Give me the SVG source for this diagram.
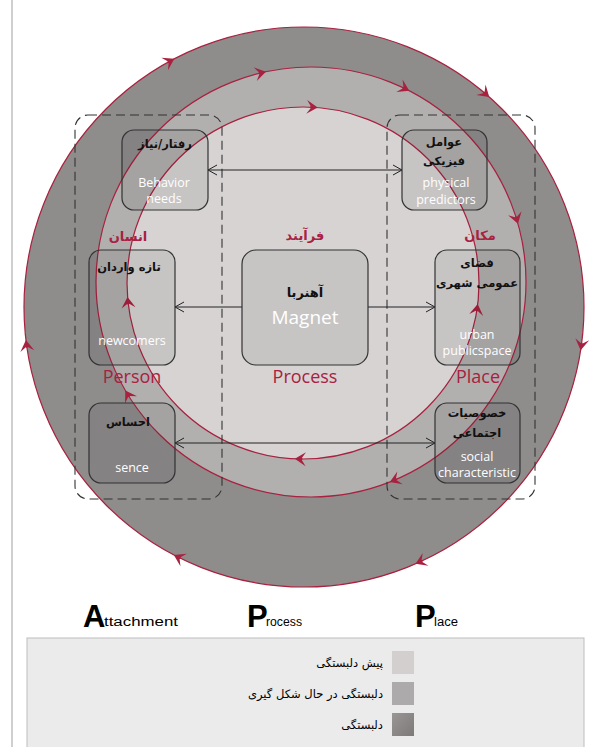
<svg xmlns="http://www.w3.org/2000/svg" width="609" height="747" viewBox="0 0 609 747">
<style>
.ring{stroke:#a8213f;stroke-width:1.2}
.box{fill:#000;fill-opacity:0.07;stroke:#333;stroke-width:1.2}
.dash{fill:none;stroke:#333;stroke-width:1.1;stroke-dasharray:9 5}
.fa{font-family:"DejaVu Sans",sans-serif;font-size:11.5px;font-weight:bold;fill:#111;text-anchor:middle}
.en{font-family:"Open Sans","Liberation Sans",sans-serif;font-size:12.5px;fill:#fff;text-anchor:middle}
.red{fill:#a8213f;font-family:"Open Sans","Liberation Sans",sans-serif;font-size:18px;text-anchor:middle}
.redfa{fill:#a8213f;font-family:"DejaVu Sans",sans-serif;font-weight:bold;font-size:13px;text-anchor:middle}
.ah{fill:#a8213f}
.conn{stroke:#222;stroke-width:1;fill:none}
.big{font-family:"Liberation Sans",sans-serif;font-weight:bold;font-size:31px;fill:#000}
.sm{font-family:"Liberation Sans",sans-serif;font-size:12px;fill:#000}
.leg{font-family:"DejaVu Sans",sans-serif;font-size:11.5px;fill:#000;text-anchor:end}
</style>
<defs>
<path id="ahd" d="M3,0 L-8,-7 L-4,-1 L-5,0 L-4,1 L-8,7 Z"/>
<marker id="oa" markerWidth="12" markerHeight="12" refX="10" refY="6" orient="auto-start-reverse" markerUnits="userSpaceOnUse">
<path d="M1,1 L10,6 L1,11" fill="none" stroke="#222" stroke-width="1"/>
</marker>
<linearGradient id="dk" x1="0" y1="0" x2="1" y2="1">
<stop offset="0" stop-color="#9a9696"/><stop offset="1" stop-color="#7d7979"/>
</linearGradient>
</defs>
<rect width="609" height="747" fill="#fff"/>
<line x1="12" y1="0" x2="12" y2="747" stroke="#cfcfcf" stroke-width="2"/>

<g id="rings">
<circle cx="304" cy="307" r="280" fill="#8f8c8c" class="ring"/>
<circle cx="311" cy="282" r="215" fill="#b2afaf" class="ring"/>
<circle cx="303" cy="283" r="176" fill="#d7d3d3" class="ring"/>
</g>

<g id="ring-arrows">
<use href="#ahd" class="ah" transform="translate(171.7,60.2) rotate(-28.2)"/>
<use href="#ahd" class="ah" transform="translate(487,95) rotate(40.8)"/>
<use href="#ahd" class="ah" transform="translate(581.1,347.2) rotate(98.3)"/>
<use href="#ahd" class="ah" transform="translate(418.3,562.6) rotate(155.9)"/>
<use href="#ahd" class="ah" transform="translate(176.5,556.3) rotate(207.1)"/>
<use href="#ahd" class="ah" transform="translate(26.3,343.1) rotate(262.6)"/>
<use href="#ahd" class="ah" transform="translate(263,72.4) rotate(-12.9)"/>
<use href="#ahd" class="ah" transform="translate(406.6,89.4) rotate(26.4)"/>
<use href="#ahd" class="ah" transform="translate(517.1,220.9) rotate(73.5)"/>
<use href="#ahd" class="ah" transform="translate(126.9,393) rotate(238.9)"/>
<use href="#ahd" class="ah" transform="translate(392.6,480.9) rotate(157.7)"/>
<use href="#ahd" class="ah" transform="translate(314.7,107.4) rotate(3.8)"/>
<use href="#ahd" class="ah" transform="translate(127.8,299.9) rotate(264.5)"/>
<use href="#ahd" class="ah" transform="translate(477.3,307) rotate(-82.2)"/>
<use href="#ahd" class="ah" transform="translate(297.8,458.9) rotate(181.7)"/>
</g>

<g id="group-person">
<rect x="75" y="115" width="147" height="384" rx="13" class="dash"/>
</g>
<g id="group-place">
<rect x="387" y="115" width="148" height="384" rx="13" class="dash"/>
</g>

<g id="connectors">
<line x1="208" y1="170" x2="402" y2="170" class="conn" marker-start="url(#oa)" marker-end="url(#oa)"/>
<line x1="242" y1="307" x2="175" y2="307" class="conn" marker-end="url(#oa)"/>
<line x1="368" y1="307" x2="435" y2="307" class="conn" marker-end="url(#oa)"/>
<line x1="175" y1="443" x2="435" y2="443" class="conn" marker-start="url(#oa)" marker-end="url(#oa)"/>
</g>

<g id="node-behavior">
<rect x="122" y="130" width="86" height="80" rx="12" class="box"/>
<text x="165" y="148" class="fa">رفتار/نیاز</text>
<text x="164" y="187" class="en">Behavior</text>
<text x="164" y="203" class="en">needs</text>
</g>
<g id="node-physical">
<rect x="402" y="130" width="85" height="80" rx="12" class="box"/>
<text x="444" y="146" class="fa">عوامل</text>
<text x="444" y="165" class="fa">فیزیکی</text>
<text x="446" y="187" class="en">physical</text>
<text x="446" y="204" class="en">predictors</text>
</g>
<g id="node-newcomers">
<rect x="89" y="250" width="86" height="115" rx="12" class="box"/>
<text x="129" y="271" class="fa">تازه واردان</text>
<text x="132" y="345" class="en">newcomers</text>
</g>
<g id="node-magnet">
<rect x="242" y="250" width="126" height="115" rx="14" class="box" fill-opacity="0.03"/>
<text x="305" y="297" class="fa" style="font-size:13px">آهنربا</text>
<text x="305" y="324" class="en" style="font-size:19px">Magnet</text>
</g>
<g id="node-urban">
<rect x="435" y="250" width="85" height="115" rx="12" class="box"/>
<text x="477" y="267" class="fa">فضای</text>
<text x="477" y="287" class="fa">عمومی شهری</text>
<text x="477" y="339" class="en">urban</text>
<text x="477" y="355" class="en">publicspace</text>
</g>
<g id="node-sence">
<rect x="89" y="403" width="86" height="80" rx="12" class="box"/>
<text x="128" y="426" class="fa">احساس</text>
<text x="132" y="472" class="en">sence</text>
</g>
<g id="node-social">
<rect x="435" y="403" width="85" height="80" rx="12" class="box"/>
<text x="477" y="417" class="fa">خصوصیات</text>
<text x="477" y="437" class="fa">اجتماعی</text>
<text x="477" y="461" class="en">social</text>
<text x="477" y="477" class="en">characteristic</text>
</g>

<g id="labels">
<text x="128" y="241" class="redfa">انسان</text>
<text x="305" y="240" class="redfa">فرآیند</text>
<text x="480" y="240" class="redfa">مکان</text>
<text x="132" y="383" class="red">Person</text>
<text x="305" y="383" class="red">Process</text>
<text x="478" y="383" class="red">Place</text>
</g>

<g id="title">
<text x="83" y="627" class="big">A</text>
<text x="104" y="626" class="sm" textLength="74" lengthAdjust="spacingAndGlyphs">ttachment</text>
<text x="247" y="627" class="big">P</text>
<text x="266" y="626" class="sm" textLength="36" lengthAdjust="spacingAndGlyphs">rocess</text>
<text x="415" y="627" class="big">P</text>
<text x="434" y="626" class="sm" textLength="24" lengthAdjust="spacingAndGlyphs">lace</text>
</g>

<g id="legend">
<rect x="27" y="638" width="557" height="112" fill="#ebebeb" stroke="#bdbdbd" stroke-width="1"/>
<rect x="392" y="651" width="22" height="23" fill="#d3cfcf"/>
<rect x="392" y="682" width="22" height="23" fill="#acaaaa"/>
<rect x="392" y="713" width="22" height="23" fill="url(#dk)"/>
<text x="383" y="667" class="leg">پیش دلبستگی</text>
<text x="383" y="698" class="leg">دلبستگی در حال شکل گیری</text>
<text x="383" y="729" class="leg">دلبستگی</text>
</g>
</svg>
